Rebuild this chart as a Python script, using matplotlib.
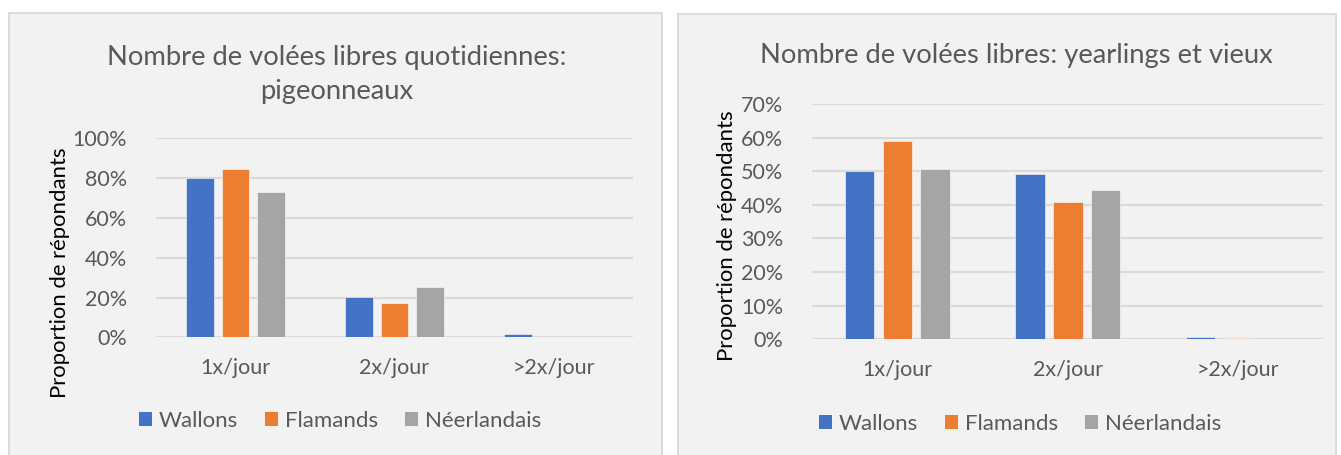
import matplotlib
matplotlib.use('Agg')
import matplotlib.pyplot as plt
from matplotlib.patches import Rectangle, Patch
import numpy as np

plt.rcParams['font.family'] = ['Lato', 'DejaVu Sans']

# data
categories = ['1x/jour', '2x/jour', '>2x/jour']
series = ['Wallons', 'Flamands', 'Néerlandais']
colors = ['#4472C4', '#ED7D31', '#A5A5A5']

pigeonneaux = {
    'Wallons': [0.802, 0.204, 0.015],
    'Flamands': [0.844, 0.172, 0.004],
    'Néerlandais': [0.729, 0.253, 0.0],
}
yearlings = {
    'Wallons': [0.500, 0.493, 0.007],
    'Flamands': [0.590, 0.408, 0.003],
    'Néerlandais': [0.508, 0.445, 0.0],
}

left_title = ['Nombre de volées libres quotidiennes:', 'pigeonneaux']
right_title = 'Nombre de volées libres: yearlings et vieux'
ylabel = 'Proportion de répondants'

W, H = 1341, 455
TXT = '#595959'
GRID = '#D9D9D9'
BG = '#F2F2F2'

fig = plt.figure(figsize=(W / 100, H / 100), dpi=100, facecolor='white')


def px(x0, y0, x1, y1):
    # pixel box (top-left origin) -> figure fraction rect
    return [x0 / W, 1 - y1 / H, (x1 - x0) / W, (y1 - y0) / H]


# chart area panels
for x0, y0, x1 in [(9, 13, 662), (678, 14, 1336)]:
    fig.patches.append(Rectangle((x0 / W, -0.05), (x1 - x0) / W, 1 - y0 / H + 0.05,
                                 transform=fig.transFigure, facecolor=BG,
                                 edgecolor=GRID, linewidth=1.3, zorder=-5))


def draw(ax, data, ymax, step, pad):
    x = np.arange(len(categories))
    for j, s in enumerate(series):
        ax.bar(x + (j - 1) * 0.222, data[s], width=0.174, color=colors[j],
               edgecolor='#FFFFFF', linewidth=0.4, zorder=3)
    ax.set_xlim(-0.5, 2.5)
    ax.set_ylim(0, ymax)
    ax.set_yticks(np.arange(0, ymax + 1e-9, step))
    ax.set_yticklabels(['{:.0f}%'.format(v * 100) for v in np.arange(0, ymax + 1e-9, step)])
    ax.set_xticks(x)
    ax.set_xticklabels(categories)
    ax.set_facecolor('none')
    for sp in ax.spines.values():
        sp.set_visible(False)
    ax.yaxis.grid(True, color=GRID, linewidth=1.5, zorder=0)
    ax.set_axisbelow(True)
    ax.tick_params(axis='both', length=0, colors=TXT, labelsize=15.5)
    ax.tick_params(axis='y', pad=pad)
    ax.tick_params(axis='x', pad=15)


ax1 = fig.add_axes(px(156, 138.3, 633, 337.3), zorder=2)
draw(ax1, pigeonneaux, 1.0, 0.2, 21)
ax2 = fig.add_axes(px(812.3, 104, 1323.3, 339.3), zorder=2)
draw(ax2, yearlings, 0.7, 0.1, 21)

# titles
fig.text(337 / W, 1 - 58 / H, left_title[0], ha='center', va='center', fontsize=19.7, color=TXT)
fig.text(337 / W, 1 - 92 / H, left_title[1], ha='center', va='center', fontsize=19.7, color=TXT)
fig.text(1016 / W, 1 - 55 / H, right_title, ha='center', va='center', fontsize=19.7, color=TXT)

# y labels
fig.text(60 / W, 1 - 273 / H, ylabel, rotation=90, ha='center', va='center', fontsize=15.9, color='#000000')
fig.text(727 / W, 1 - 236 / H, ylabel, rotation=90, ha='center', va='center', fontsize=15.9, color='#000000')

# legends
handles = [Patch(facecolor=c, edgecolor='none') for c in colors]
for cx, cy in [(340, 421), (1020, 424)]:
    fig.legend(handles, series, loc='center', bbox_to_anchor=(cx / W, 1 - cy / H), ncol=3,
               frameon=False, fontsize=16, labelcolor=TXT, handlelength=0.6, handleheight=0.6,
               handletextpad=0.3, columnspacing=1.2)

fig.savefig('out.png', dpi=100, facecolor='white')
